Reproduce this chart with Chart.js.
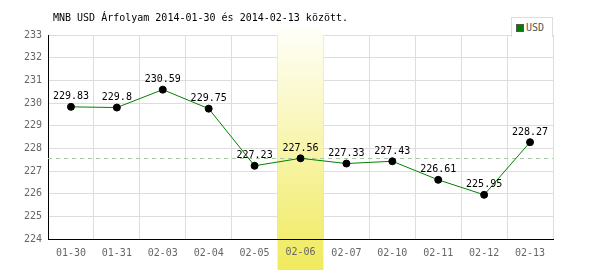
<!DOCTYPE html>
<html>
<head>
<meta charset="utf-8">
<script src="https://cdn.jsdelivr.net/npm/chart.js@4.4.0/dist/chart.umd.min.js"></script>
<style>
  body { margin: 0; background: #fff; }
  #wrap { position: relative; width: 600px; height: 270px; }
  #legend { position: absolute; left: 511px; top: 17px; width: 40px; height: 19px; border: 1px solid #ddd; border-bottom: none;
    font: 10px "DejaVu Sans Mono", monospace; color: #555; line-height: 19px; background: #fff; }
  #legend i { display: inline-block; width: 6px; height: 6px; background: #008000; border: 1px solid #555; margin: 0 2px 0 4px; vertical-align: -1px; }
</style>
</head>
<body>
<div id="wrap">
  <canvas id="chart" width="600" height="270"></canvas>
  <div id="legend"><i></i>USD</div>
</div>
<script>
const days = ['01-30','01-31','02-03','02-04','02-05','02-06','02-07','02-10','02-11','02-12','02-13'];
const usd = [229.83, 229.8, 230.59, 229.75, 227.23, 227.56, 227.33, 227.43, 226.61, 225.95, 228.27];
const labels = ['229.83','229.8','230.59','229.75','227.23','227.56','227.33','227.43','226.61','225.95','228.27'];
const selected = 5;
const refLine = 227.56;
const title = 'MNB USD Árfolyam 2014-01-30 és 2014-02-13 között.';

const mono = '"DejaVu Sans Mono", monospace';

const extras = {
  id: 'extras',
  beforeDatasetsDraw(chart) {
    const { ctx, chartArea, scales: { x, y } } = chart;
    // highlighted day
    const w = x.getPixelForValue(1) - x.getPixelForValue(0);
    const cx = x.getPixelForValue(selected);
    const g = ctx.createLinearGradient(0, 27, 0, 270);
    g.addColorStop(0, '#fffffa');
    g.addColorStop(1, '#f0ea5c');
    ctx.save();
    ctx.fillStyle = g;
    ctx.fillRect(cx - w / 2, 27, w, 270 - 27);
    // redraw x axis line and the tick label over band
    ctx.strokeStyle = '#000';
    ctx.lineWidth = 1;
    ctx.beginPath();
    ctx.moveTo(chartArea.left, chartArea.bottom + 0.5);
    ctx.lineTo(chartArea.right, chartArea.bottom + 0.5);
    ctx.stroke();
    ctx.font = '10px ' + mono;
    ctx.fillStyle = '#666';
    ctx.textAlign = 'center';
    ctx.textBaseline = 'top';
    ctx.fillText(days[selected], cx, chartArea.bottom + 8);
    // dashed reference line
    const ry = Math.round(y.getPixelForValue(refLine)) + 0.5;
    ctx.strokeStyle = '#a8c8a8';
    ctx.setLineDash([4, 4]);
    ctx.beginPath();
    ctx.moveTo(chartArea.left, ry);
    ctx.lineTo(chartArea.right, ry);
    ctx.stroke();
    ctx.restore();
  },
  afterDatasetsDraw(chart) {
    const { ctx } = chart;
    const meta = chart.getDatasetMeta(0);
    ctx.save();
    ctx.font = '10px ' + mono;
    ctx.fillStyle = '#000';
    ctx.textAlign = 'center';
    ctx.textBaseline = 'bottom';
    meta.data.forEach((pt, i) => ctx.fillText(labels[i], pt.x, pt.y - 5));
    ctx.textAlign = 'left';
    ctx.textBaseline = 'middle';
    ctx.fillText(title, 53, 18);
    ctx.restore();
  }
};

new Chart(document.getElementById('chart'), {
  type: 'line',
  data: {
    labels: days,
    datasets: [{
      label: 'USD',
      data: usd,
      borderColor: '#008000',
      borderWidth: 1,
      pointBackgroundColor: '#000',
      pointBorderColor: '#000',
      pointRadius: 3.5,
      tension: 0
    }]
  },
  options: {
    responsive: false,
    animation: false,
    layout: { padding: { top: 35, right: 47, left: 0, bottom: 3 } },
    plugins: { legend: { display: false }, tooltip: { enabled: false } },
    scales: {
      x: {
        offset: true,
        grid: { offset: true, color: '#ddd', drawTicks: false },
        border: { color: '#000' },
        ticks: { color: '#666', font: { family: mono, size: 10 }, padding: 8, maxRotation: 0 }
      },
      y: {
        min: 224,
        max: 233,
        afterFit(s) { s.width = 48; },
        grid: { color: '#ddd', drawTicks: false },
        border: { color: '#000' },
        ticks: { stepSize: 1, color: '#666', font: { family: mono, size: 10 }, padding: 6 }
      }
    }
  },
  plugins: [extras]
});
</script>
</body>
</html>
